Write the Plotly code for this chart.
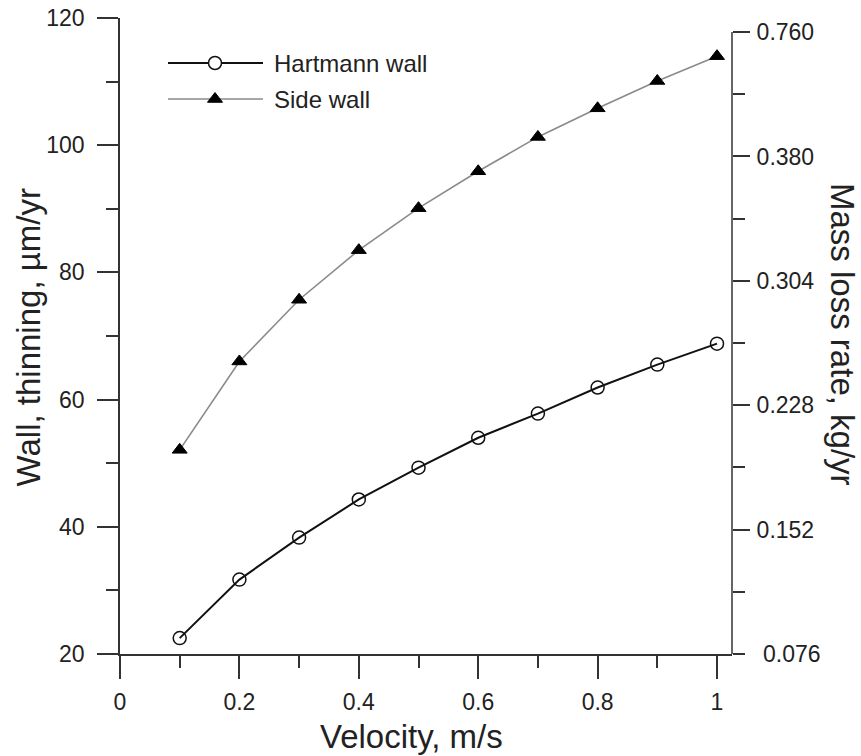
import plotly.graph_objects as go

# ---------------- data ----------------
velocity = [0.1, 0.2, 0.3, 0.4, 0.5, 0.6, 0.7, 0.8, 0.9, 1.0]
hartmann_wall = [22.5, 31.7, 38.3, 44.3, 49.3, 54.0, 57.8, 61.9, 65.5, 68.8]
side_wall = [52.1, 66.0, 75.7, 83.5, 90.1, 95.9, 101.3, 105.8, 110.1, 114.0]
series_names = ["Hartmann wall", "Side wall"]

x_tick_vals = [0, 0.2, 0.4, 0.6, 0.8, 1.0]
x_tick_text = ["0", "0.2", "0.4", "0.6", "0.8", "1"]
left_tick_vals = [20, 40, 60, 80, 100, 120]
right_tick_vals = [0.152, 0.228, 0.304, 0.380, 0.456]
right_tick_text = ["0.152", "0.228", "0.304", "0.380", "0.760"]
right_bottom_val = 0.076
right_bottom_text = "0.076"

FONT = "Liberation Sans, Arial, sans-serif"
AX = "#333333"
TXT = "#222222"
HART_COLOR = "#111111"
SIDE_COLOR = "#8a8a8a"

fig = go.Figure()

fig.add_trace(go.Scatter(
    x=velocity, y=hartmann_wall, mode="lines+markers", name=series_names[0],
    line=dict(color=HART_COLOR, width=2),
    marker=dict(symbol="circle-open", size=13, color=HART_COLOR, line=dict(width=1.5, color=HART_COLOR)),
    showlegend=False, cliponaxis=False,
))
fig.add_trace(go.Scatter(
    x=velocity, y=side_wall, mode="lines+markers", name=series_names[1],
    line=dict(color=SIDE_COLOR, width=1.6),
    marker=dict(symbol="triangle-up", size=13, color="black", line=dict(width=1, color="black")),
    showlegend=False, cliponaxis=False,
))

# legend drawn manually on a hidden pixel-like axis pair (decoration only)
leg_x_line = [48, 143]
leg_marker_x = [95]
leg_rows = [45, 81]
fig.add_trace(go.Scatter(x=leg_x_line, y=[leg_rows[0]] * 2, mode="lines", xaxis="x2", yaxis="y4",
                         line=dict(color=HART_COLOR, width=2), showlegend=False, hoverinfo="skip"))
fig.add_trace(go.Scatter(x=leg_marker_x, y=[leg_rows[0]], mode="markers", xaxis="x2", yaxis="y4",
                         marker=dict(symbol="circle", size=13, color="white", line=dict(width=1.5, color=HART_COLOR)),
                         showlegend=False, hoverinfo="skip"))
fig.add_trace(go.Scatter(x=leg_x_line, y=[leg_rows[1]] * 2, mode="lines", xaxis="x2", yaxis="y4",
                         line=dict(color=SIDE_COLOR, width=1.6), showlegend=False, hoverinfo="skip"))
fig.add_trace(go.Scatter(x=leg_marker_x, y=[leg_rows[1]], mode="markers", xaxis="x2", yaxis="y4",
                         marker=dict(symbol="triangle-up", size=13, color="black", line=dict(width=1, color="black")),
                         showlegend=False, hoverinfo="skip"))
for name, row in zip(series_names, leg_rows):
    fig.add_annotation(x=152, y=row, xref="x2", yref="y4", text=name, showarrow=False,
                       xanchor="left", yanchor="middle", font=dict(family=FONT, size=24, color=TXT))

# right axis range: 0.076 at bottom, 0.456 placed slightly below top
r_lo, r_hi = 0.076, 0.4646

tickfont = dict(family=FONT, size=23, color=TXT)

fig.update_layout(
    width=861, height=756,
    margin=dict(l=120, r=129, t=18, b=102, autoexpand=False),
    paper_bgcolor="white", plot_bgcolor="white",
    showlegend=False,
    xaxis=dict(
        range=[0, 1.0251], showgrid=False, zeroline=False, automargin=False,
        showline=True, linecolor=AX, linewidth=1.5,
        tickmode="array", tickvals=x_tick_vals, ticktext=x_tick_text,
        ticks="outside", ticklen=23, tickwidth=1.5, tickcolor=AX,
        minor=dict(tick0=0, dtick=0.1, ticks="outside", ticklen=12, tickwidth=1.5, tickcolor=AX, showgrid=False),
        tickfont=tickfont, ticklabelstandoff=4,
    ),
    yaxis=dict(
        range=[20, 120], showgrid=False, zeroline=False, automargin=False,
        showline=True, linecolor=AX, linewidth=1.5,
        tickmode="array", tickvals=left_tick_vals,
        ticks="outside", ticklen=21, tickwidth=1.5, tickcolor=AX,
        minor=dict(tick0=20, dtick=10, ticks="outside", ticklen=12, tickwidth=1.5, tickcolor=AX, showgrid=False),
        tickfont=tickfont, ticklabelstandoff=8,
    ),
    yaxis2=dict(
        overlaying="y", side="right", anchor="x", automargin=False,
        range=[r_lo, r_hi], showgrid=False, zeroline=False, showline=False,
        tickmode="array", tickvals=right_tick_vals, ticktext=right_tick_text,
        ticks="outside", ticklen=17, tickwidth=1.5, tickcolor=AX,
        minor=dict(tick0=0.076, dtick=0.038, ticks="outside", ticklen=12, tickwidth=1.5, tickcolor=AX, showgrid=False),
        tickfont=tickfont, ticklabelstandoff=2,
    ),
    xaxis2=dict(overlaying="x", range=[0, 612], visible=False, automargin=False),
    yaxis4=dict(overlaying="y", range=[636, 0], visible=False, automargin=False),
)

# right axis spine (from 0.076 up to the top labelled tick)
fig.add_shape(type="line", xref="paper", yref="y2", x0=1, x1=1, y0=r_lo, y1=right_tick_vals[-1],
              line=dict(color=AX, width=1.5))

# bottom label of the right axis (no tick mark there)
fig.add_annotation(text=right_bottom_text, xref="paper", yref="y2", x=1, y=right_bottom_val,
                   xanchor="left", yanchor="middle", xshift=29, showarrow=False, font=tickfont)

# axis titles
title_font = dict(family=FONT, size=33, color=TXT)
fig.add_annotation(text="Velocity, m/s", xref="paper", yref="paper", x=0.4755, y=-0.129,
                   showarrow=False, xanchor="center", yanchor="middle", font=title_font)
fig.add_annotation(text="Wall, thinning, µm/yr", xref="paper", yref="paper", x=-0.150, y=0.498,
                   showarrow=False, xanchor="center", yanchor="middle", textangle=-90, font=title_font)
fig.add_annotation(text="Mass loss rate, kg/yr", xref="paper", yref="paper", x=1.1797, y=0.5016,
                   showarrow=False, xanchor="center", yanchor="middle", textangle=90, font=title_font)

fig.write_html("out.html")
